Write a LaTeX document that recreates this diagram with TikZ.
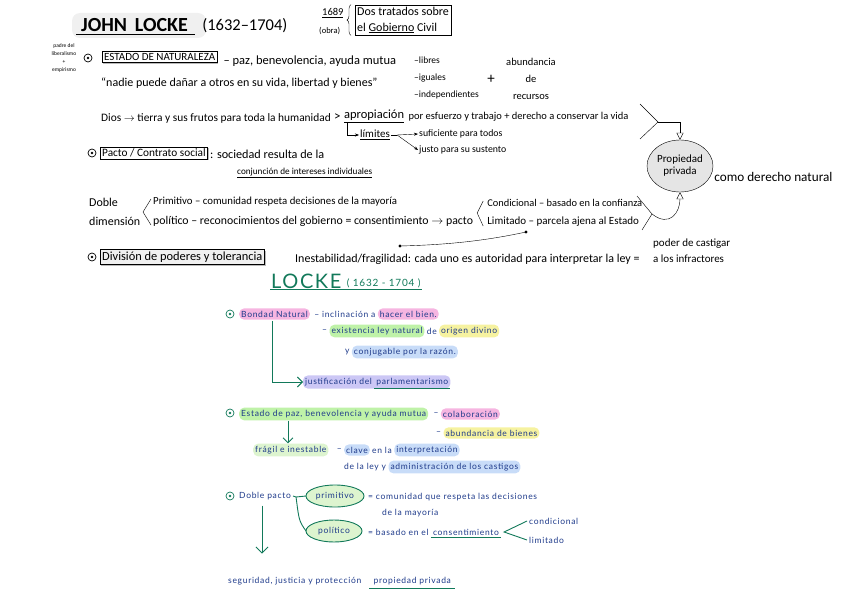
\documentclass[tikz,border=0pt]{standalone}
\usepackage{fontspec}
\setmainfont{Carlito}
\newfontfamily\hand[LetterSpace=8]{Lato}
\usetikzlibrary{arrows.meta,shapes.geometric,calc,fit,backgrounds,decorations.pathreplacing,shadows}
\definecolor{ink}{HTML}{1E3A8A}
\definecolor{grn}{HTML}{12795A}
\definecolor{hpink}{HTML}{F6B5E1}
\definecolor{hgreen}{HTML}{BFF2A8}
\definecolor{hyellow}{HTML}{F6F2A0}
\definecolor{hblue}{HTML}{C8DCF8}
\definecolor{hpurple}{HTML}{CCC7F5}
\definecolor{hlgreen}{HTML}{DDF4CF}
\newcommand{\fsz}[1]{\fontsize{#1}{#1}\selectfont}
\begin{document}
\begin{tikzpicture}[x=1pt,y=-1pt,
  tx/.style={anchor=west, inner sep=1pt, font=\fsz{10}},
  box/.style={draw, fill=white, inner sep=2pt, drop shadow={shadow xshift=1.2pt, shadow yshift=-1.2pt, fill=gray!55, opacity=1}},
  bt/.style={anchor=west, inner xsep=2pt, inner ysep=2.5pt, text=ink, font=\hand\fsz{8.5}},
  hl/.style={bt, fill=#1, rounded corners=5pt},
  gline/.style={grn, line width=0.9pt},
  cdot/.style={circle, draw=#1, line width=0.7pt, minimum size=8pt, inner sep=0pt, path picture={\fill[#1] (path picture bounding box.center) circle (1.4pt);}},
  oarrow/.style={-{Triangle[open,length=7pt,width=7pt]}},
  sarrow/.style={-{Stealth[length=4pt]}}]
\useasboundingbox (0,0) rectangle (848,599);

% ---------- top: black notes ----------
\fill[gray!12, rounded corners=8pt] (72,13) rectangle (206,38);
\node[tx, font=\bfseries\fsz{20}] (title) at (80,25) {JOHN\, LOCKE};
\draw[line width=1.3pt] ($(title.south west)+(-4,2)$) -- ($(title.south east)+(6,2)$);
\node[tx, font=\fsz{16.5}] (dates) at ($(title.east)+(12,1)$) {(1632–1704)};
\node[tx, font=\fsz{10.5}] (yr) at (321,13) {\underline{1689}};
\node[tx, font=\fsz{8.5}] (obra) at (318,31) {(obra)};
\node[tx, box, align=left, font=\fontsize{12}{16}\selectfont] (dos) at (355,20) {Dos tratados sobre\\el \underline{Gobierno} Civil};
\draw[decorate, decoration={brace, amplitude=4pt}] ($(dos.south west)+(-4,0)$) -- ($(dos.north west)+(-4,0)$);

\node[font=\fontsize{5.5}{8}\selectfont, align=center] (padre) at (64,58) {padre del\\liberalismo\\+\\empirismo};
\node[cdot=black] (c1) at (88,58) {};
\node[tx, box, font=\fsz{11}] (estado) at (102,57) {ESTADO DE NATURALEZA};
\node[tx, font=\fsz{12.5}] (paz) at ($(estado.east)+(5,4)$) {– paz, benevolencia, ayuda mutua};
\node[tx, font=\fsz{12}] (quote) at (100,83) {“nadie puede dañar a otros en su vida, libertad y bienes”};
\node[tx, align=left, font=\fontsize{9.5}{17}\selectfont] (libres) at (413,78) {–libres\\–iguales\\–independientes};
\node[font=\fsz{15}] (plus) at (491,79) {+};
\node[align=center, font=\fontsize{10.5}{17}\selectfont] (abund) at (531,79) {abundancia\\de\\recursos};

\node[tx, font=\fsz{11.4}] (dios) at (100,118) {Dios $\rightarrow$ tierra y sus frutos para toda la humanidad};
\node[tx, font=\fsz{13}] (gt1) at ($(dios.east)+(1,-1)$) {>};
\node[tx, font=\fsz{12.5}] (apro) at ($(gt1.east)+(1,-1)$) {\underline{apropiación}};
\node[tx, font=\fsz{10.5}] (esf) at ($(apro.east)+(2,1)$) {por esfuerzo y trabajo + derecho a conservar la vida};
\coordinate (v1) at (658,122);
\draw (640,104) -- (v1) -- (640,139);
\node[ellipse, draw, fill=gray!20, minimum width=66pt, minimum height=52pt, align=center, font=\fontsize{11}{12}\selectfont, inner sep=0pt] (prop) at (680,166) {Propiedad\\privada};
\draw[oarrow] (v1) -| (prop.north);

\node[tx, font=\fsz{11}] (lim) at (359,135) {\underline{límites}};
\draw[sarrow] ($(apro.south west)+(4,-1)$) |- (lim.west);
\coordinate (fk1) at ($(lim.east)+(6,0)$);
\node[tx, font=\fsz{9.8}] (suf) at (418,134) {suficiente para todos};
\node[tx, font=\fsz{9.8}] (jus) at (418,150) {justo para su sustento};
\draw (lim.east) -- (fk1);
\draw[sarrow] (fk1) -- (suf.west);
\draw[sarrow] (fk1) -- (jus.west);

\node[cdot=black] (c2) at (92,153) {};
\node[tx, box, font=\fsz{11.3}] (pacto) at (100,153) {Pacto / Contrato social};
\node[tx, font=\fsz{12.2}] (soc) at ($(pacto.east)+(1,1)$) {: sociedad resulta de la};
\node[tx, font=\fsz{9.2}] (conj) at (236,173) {\underline{conjunción de intereses individuales}};
\node[tx, font=\fsz{13.2}] (como) at ($(prop.east)+(0,11)$) {como derecho natural};

\node[tx, align=left, font=\fontsize{12}{19}\selectfont] (doble) at (88,212) {Doble\\dimensión};
\coordinate (v2) at (143,212);
\draw (151,199) -- (v2) -- (151,225);
\node[tx, font=\fsz{10.8}] (prim) at (152,202) {Primitivo – comunidad respeta decisiones de la mayoría};
\node[tx, font=\fsz{11.8}] (poli) at (152,221) {político – reconocimientos del gobierno = consentimiento $\rightarrow$ pacto};
\coordinate (v3) at ($(poli.east)+(3,-8)$);
\draw ($(v3)+(6,-12)$) -- (v3) -- ($(v3)+(6,13)$);
\node[tx, font=\fsz{10.4}] (cond) at ($(v3)+(9,-10)$) {Condicional – basado en la confianza};
\node[tx, font=\fsz{11}] (limit) at ($(v3)+(9,9)$) {Limitado – parcela ajena al Estado};
\coordinate (v4) at (652,214);
\draw (637,196) -- (v4) -- (642,230);
\draw[oarrow] (v4) .. controls (670,228) and (680,212) .. (prop.south);

\coordinate (d1) at (526,232);
\coordinate (d2) at (400,246);
\draw (d1) .. controls (480,242) and (440,245) .. (d2);
\fill (d1) circle (1.6);
\fill (d2) circle (1.6);

\node[cdot=black] (c3) at (92,257) {};
\node[tx, box, fill=gray!12, font=\fsz{12.4}] (div) at (100,257) {División de poderes y tolerancia};
\node[tx, font=\fsz{12}] (inest) at (294,259) {Inestabilidad/fragilidad: cada uno es autoridad para interpretar la ley =};
\node[tx, align=left, font=\fontsize{11}{16}\selectfont] (poder) at (652,251) {poder de castigar\\a los infractores};

% ---------- bottom: coloured notes ----------
\node[tx, text=grn, font=\hand\fsz{20}] (locke) at (270,281) {LOCKE};
\node[tx, text=grn, font=\hand\fsz{10}] (ldates) at ($(locke.east)+(3,2)$) {( 1632 - 1704 )};
\draw[grn, line width=1.5pt] (locke.south west) -- (locke.south west -| ldates.east);

\node[cdot=grn] (g1) at (230,314) {};
\node[hl=hpink] (bn) at (239,314) {Bondad Natural};
\node[bt] (incl) at ($(bn.east)+(2,0)$) {– inclinación a};
\node[hl=hpink] (hacer) at (incl.east) {hacer el bien.};
\node[bt] (dash2) at (320,331) {–};
\node[hl=hgreen] (exis) at (dash2.east) {existencia ley natural};
\node[bt] (de1) at (exis.east) {de};
\node[hl=hyellow] (orig) at (de1.east) {origen divino};
\node[bt] (y1) at (343,352) {y};
\node[hl=hblue] (conjug) at (y1.east) {conjugable por la razón.};
\node[bt] (just1) at (303,382) {justificación del};
\node[bt] (parl) at (just1.east) {parlamentarismo};
\begin{scope}[on background layer]
\node[fit=(just1)(parl), fill=hpurple, rounded corners=5pt, inner sep=0pt] (justbg) {};
\end{scope}
\draw[grn, line width=1.1pt] (parl.south west) -- (parl.south east);
\draw[gline, -{Straight Barb[length=5pt]}] ($(bn.south west)+(33,1)$) |- (just1.west);

\node[cdot=grn] (g2) at (230,413) {};
\node[hl=hgreen] (epaz) at (239,414) {Estado de paz, benevolencia y ayuda mutua};
\node[bt] (dash3) at ($(epaz.east)+(3,0)$) {–};
\node[hl=hpink] (colab) at (dash3.east) {colaboración};
\node[bt] (dash4) at (434,433) {–};
\node[hl=hyellow] (abb) at (dash4.east) {abundancia de bienes};
\node[hl=hlgreen] (fragil) at (253,450) {frágil e inestable};
\draw[gline, -{Straight Barb[length=5pt]}] ($(epaz.south west)+(49,0)$) -- ($(fragil.north west)+(35,0)$);
\node[bt] (dash5) at ($(fragil.east)+(6,0)$) {–};
\node[hl=hblue] (clave) at (dash5.east) {clave};
\node[bt] (enla) at (clave.east) {en la};
\node[hl=hblue] (interp) at (enla.east) {interpretación};
\node[bt] (dela) at (342,467) {de la ley y};
\node[hl=hblue] (admin) at (dela.east) {administración de los castigos};

\node[cdot=grn] (g3) at (230,496) {};
\node[bt] (dp) at (237,496) {Doble pacto};
\node[bt, anchor=center] (primi) at (335,496) {primitivo};
\node[bt, anchor=center] (polit) at (334,531) {político};
\begin{scope}[on background layer]
\draw[gline, fill=hlgreen] (primi.center) ellipse (29 and 11);
\draw[gline, fill=hlgreen] (polit.center) ellipse (28 and 11);
\end{scope}
\coordinate (fk2) at ($(dp.east)+(3,1)$);
\draw[gline] (dp.east) -- (fk2) -- ($(primi.center)+(-29,0)$);
\draw[gline] (fk2) .. controls ($(fk2)+(3,24)$) .. ($(polit.center)+(-28,0)$);
\node[bt] (eq1) at (366,497) {= comunidad que respeta las decisiones};
\node[bt] (may) at (380,513) {de la mayoría};
\node[bt] (eq2) at (366,532) {= basado en el};
\node[bt] (cons) at (eq2.east) {consentimiento};
\draw[grn, line width=1.1pt] (cons.south west) -- (cons.south east);
\node[bt] (condi) at (527,521) {condicional};
\node[bt] (limi) at (527,540) {limitado};
\coordinate (v5) at ($(cons.east)+(3,0)$);
\draw[gline] (condi.west) -- (v5) -- (limi.west);
\draw[gline, -{Straight Barb[length=6pt]}] ($(dp.south west)+(25,3)$) -- ++(0,48);
\node[bt] (seg) at (226,581) {seguridad, justicia y protección};
\node[bt] (pp) at ($(seg.east)+(8,0)$) {propiedad privada};
\draw[grn, line width=1.1pt] ($(pp.south west)+(-2,1)$) -- ($(pp.south east)+(2,1)$);
\end{tikzpicture}
\end{document}
